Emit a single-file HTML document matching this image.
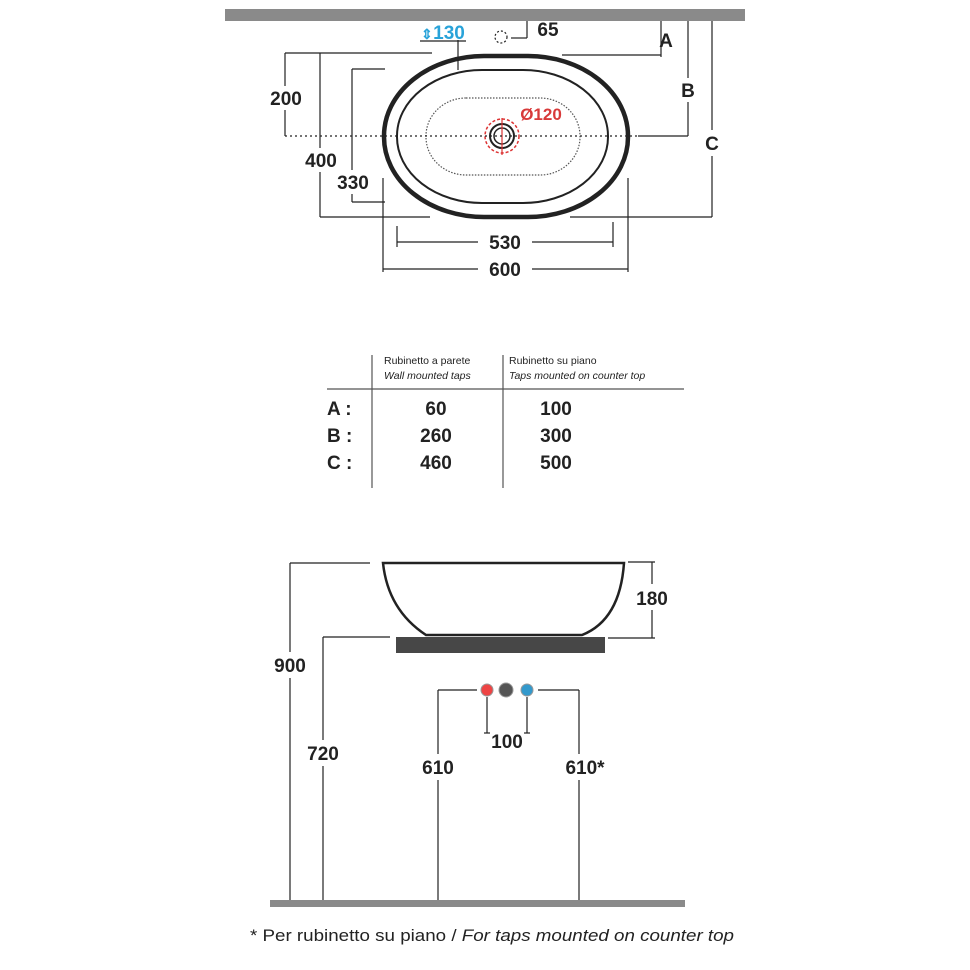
<!DOCTYPE html>
<html><head><meta charset="utf-8"><style>
html,body{margin:0;padding:0;background:#fff}
svg{display:block}
text{font-family:"Liberation Sans",sans-serif;font-weight:bold;fill:#222}
</style></head><body>
<svg width="970" height="970" viewBox="0 0 970 970" xmlns="http://www.w3.org/2000/svg">
<g stroke="#222" stroke-width="1.2" fill="none">
<rect x="225" y="9" width="520" height="12" fill="#8a8a8a" stroke="none"/>
<rect x="384" y="56" width="244" height="161" rx="100" ry="80" stroke-width="4.5"/>
<rect x="397" y="70" width="211" height="133" rx="85" ry="66" stroke-width="2"/>
<rect x="426" y="98" width="154" height="77" rx="40" ry="38" stroke-dasharray="1.5 1.5" stroke="#555"/>
<circle cx="502" cy="136" r="12" stroke-width="2"/>
<circle cx="502" cy="136" r="8" stroke-width="1.5"/>
<circle cx="502" cy="136" r="17" stroke="#d33" stroke-dasharray="3 2" stroke-width="1.5"/>
<line x1="502" y1="118" x2="502" y2="155" stroke="#d33"/>
<line x1="285" y1="136" x2="640" y2="136" stroke-dasharray="2 3"/>
<line x1="638" y1="136" x2="688" y2="136"/>
<line x1="285" y1="53" x2="432" y2="53"/>
<line x1="285" y1="53" x2="285" y2="136"/>
<line x1="320" y1="53" x2="320" y2="217"/>
<line x1="320" y1="217" x2="430" y2="217"/>
<line x1="352" y1="69" x2="385" y2="69"/>
<line x1="352" y1="69" x2="352" y2="202"/>
<line x1="352" y1="202" x2="385" y2="202"/>
<line x1="661" y1="21" x2="661" y2="57"/>
<line x1="562" y1="55" x2="661" y2="55"/>
<line x1="688" y1="21" x2="688" y2="136"/>
<line x1="712" y1="21" x2="712" y2="217"/>
<line x1="570" y1="217" x2="712" y2="217"/>
<line x1="458" y1="40" x2="458" y2="70"/>
<line x1="420" y1="41" x2="466" y2="41"/>
<circle cx="501" cy="37" r="6" stroke-dasharray="2 2"/>
<line x1="527" y1="21" x2="527" y2="38"/>
<line x1="511" y1="38" x2="527" y2="38"/>
<line x1="397" y1="226" x2="397" y2="247"/>
<line x1="613" y1="222" x2="613" y2="247"/>
<line x1="397" y1="242" x2="478" y2="242"/>
<line x1="532" y1="242" x2="613" y2="242"/>
<line x1="383" y1="178" x2="383" y2="272"/>
<line x1="628" y1="178" x2="628" y2="272"/>
<line x1="383" y1="269" x2="478" y2="269"/>
<line x1="532" y1="269" x2="628" y2="269"/>
<line x1="372" y1="355" x2="372" y2="488" stroke="#555"/>
<line x1="503" y1="355" x2="503" y2="488" stroke="#555"/>
<line x1="327" y1="389" x2="684" y2="389" stroke="#555"/>
<path d="M383 563 L624 563 Q620 620 582 635 L426 635 Q388 610 383 563 Z" stroke-width="2.5"/>
<rect x="396" y="637" width="209" height="16" fill="#474747" stroke="none"/>
<line x1="290" y1="563" x2="370" y2="563"/>
<line x1="290" y1="563" x2="290" y2="905"/>
<line x1="323" y1="637" x2="390" y2="637"/>
<line x1="323" y1="637" x2="323" y2="905"/>
<line x1="628" y1="562" x2="655" y2="562"/>
<line x1="608" y1="638" x2="655" y2="638"/>
<line x1="652" y1="562" x2="652" y2="638"/>
<rect x="270" y="900" width="415" height="7" fill="#8a8a8a" stroke="none"/>
<line x1="438" y1="690" x2="438" y2="900"/>
<line x1="438" y1="690" x2="477" y2="690"/>
<line x1="579" y1="690" x2="579" y2="900"/>
<line x1="538" y1="690" x2="579" y2="690"/>
<line x1="487" y1="697" x2="487" y2="733"/>
<line x1="527" y1="697" x2="527" y2="733"/>
<line x1="484" y1="733" x2="490" y2="733"/>
<line x1="524" y1="733" x2="530" y2="733"/>
</g>
<circle cx="487" cy="690" r="6" fill="#e44" stroke="#999"/>
<circle cx="506" cy="690" r="7" fill="#555" stroke="#999"/>
<circle cx="527" cy="690" r="6" fill="#39c" stroke="#999"/>
<g fill="#fff">
<rect x="266" y="86" width="40" height="24"/>
<rect x="301" y="148" width="40" height="24"/>
<rect x="333" y="170" width="40" height="24"/>
<rect x="674" y="78" width="28" height="24"/>
<rect x="700" y="130" width="26" height="26"/>
<rect x="268" y="652" width="44" height="26"/>
<rect x="302" y="740" width="44" height="26"/>
<rect x="416" y="754" width="44" height="26"/>
<rect x="628" y="584" width="46" height="26"/>
<rect x="556" y="754" width="58" height="26"/>
</g>
<g font-size="19" text-anchor="middle">
<text x="286" y="105">200</text>
<text x="321" y="167">400</text>
<text x="353" y="189">330</text>
<text x="505" y="249">530</text>
<text x="505" y="276">600</text>
<text x="666" y="47">A</text>
<text x="688" y="97">B</text>
<text x="712" y="150">C</text>
<text x="548" y="36">65</text>
<text x="449" y="39" style="fill:#29a3d9">130</text>
<text x="541" y="120" style="fill:#d83a3a" font-size="17">Ø120</text>
<text x="652" y="605">180</text>
<text x="290" y="672">900</text>
<text x="323" y="760">720</text>
<text x="438" y="774">610</text>
<text x="585" y="774">610*</text>
<text x="507" y="748">100</text>
</g>
<text x="421" y="39" font-size="14" style="fill:#29a3d9">⇕</text>
<g font-size="10.5">
<text x="384" y="364" style="font-weight:normal">Rubinetto a parete</text>
<text x="384" y="379" style="font-weight:normal;font-style:italic">Wall mounted taps</text>
<text x="509" y="364" style="font-weight:normal">Rubinetto su piano</text>
<text x="509" y="379" style="font-weight:normal;font-style:italic">Taps mounted on counter top</text>
</g>
<g font-size="19">
<text x="327" y="415">A :</text>
<text x="327" y="442">B :</text>
<text x="327" y="469">C :</text>
<text x="436" y="415" text-anchor="middle">60</text>
<text x="436" y="442" text-anchor="middle">260</text>
<text x="436" y="469" text-anchor="middle">460</text>
<text x="556" y="415" text-anchor="middle">100</text>
<text x="556" y="442" text-anchor="middle">300</text>
<text x="556" y="469" text-anchor="middle">500</text>
</g>
<text x="250" y="941" font-size="17" textLength="484" lengthAdjust="spacingAndGlyphs" style="font-weight:normal">* Per rubinetto su piano / <tspan style="font-style:italic">For taps mounted on counter top</tspan></text>
</svg>
</body></html>
